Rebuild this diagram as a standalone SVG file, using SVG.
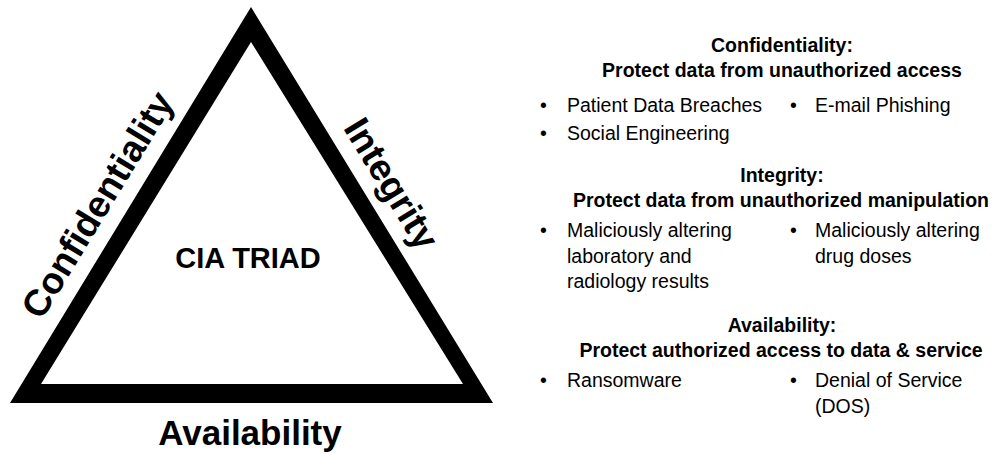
<svg xmlns="http://www.w3.org/2000/svg" width="998" height="454" viewBox="0 0 998 454">
<style>
.big{font-family:"Liberation Sans",Arial,sans-serif;font-weight:bold;fill:#000}
.hd{font-family:"Liberation Sans",Arial,sans-serif;font-weight:bold;font-size:19.5px;fill:#000;text-anchor:middle}
.it{font-family:"Liberation Sans",Arial,sans-serif;font-size:19.5px;fill:#000}
</style>
<rect width="998" height="454" fill="#fff"/>
<g id="triangle">
<path d="M251,7 L493,403 L10,403 Z M251,42 L41,384 L463,384 Z" fill="#000" fill-rule="evenodd"/>
</g>
<g id="label-confidentiality">
<text class="big" font-size="37" text-anchor="middle" transform="translate(98,205) rotate(-58.7)" x="0" y="12">Confidentiality</text>
</g>
<g id="label-integrity">
<text class="big" font-size="37" text-anchor="middle" transform="translate(391,184) rotate(58.6)" x="0" y="12">Integrity</text>
</g>
<g id="label-availability">
<text class="big" font-size="35" text-anchor="middle" x="250" y="445">Availability</text>
</g>
<g id="label-cia">
<text class="big" font-size="29" text-anchor="middle" x="248" y="268">CIA TRIAD</text>
</g>
<g id="section-confidentiality">
<text class="hd" x="782" y="52">Confidentiality:</text>
<text class="hd" x="782" y="77">Protect data from unauthorized access</text>
<text class="it" x="540" y="112">•</text><text class="it" x="567" y="112">Patient Data Breaches</text>
<text class="it" x="790" y="112">•</text><text class="it" x="815" y="112">E-mail Phishing</text>
<text class="it" x="540" y="140">•</text><text class="it" x="567" y="140">Social Engineering</text>
</g>
<g id="section-integrity">
<text class="hd" x="782" y="182">Integrity:</text>
<text class="hd" x="781" y="207">Protect data from unauthorized manipulation</text>
<text class="it" x="540" y="237">•</text><text class="it" x="567" y="237">Maliciously altering</text>
<text class="it" x="567" y="263">laboratory and</text>
<text class="it" x="567" y="288">radiology results</text>
<text class="it" x="790" y="237">•</text><text class="it" x="815" y="237">Maliciously altering</text>
<text class="it" x="815" y="263">drug doses</text>
</g>
<g id="section-availability">
<text class="hd" x="782" y="332">Availability:</text>
<text class="hd" x="781" y="357">Protect authorized access to data &amp; service</text>
<text class="it" x="540" y="387">•</text><text class="it" x="567" y="387">Ransomware</text>
<text class="it" x="790" y="387">•</text><text class="it" x="815" y="387">Denial of Service</text>
<text class="it" x="815" y="413">(DOS)</text>
</g>
</svg>
